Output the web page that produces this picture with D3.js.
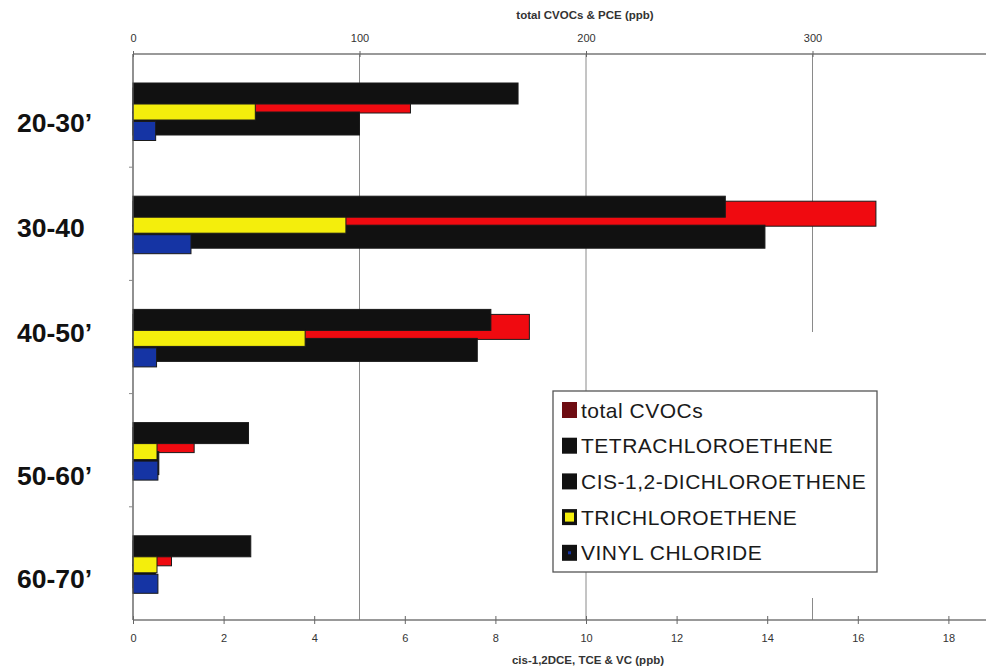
<!DOCTYPE html>
<html>
<head>
<meta charset="utf-8">
<script src="https://cdn.jsdelivr.net/npm/d3@7"></script>
<style>
  html, body { margin: 0; padding: 0; background: #fff; }
  svg { display: block; font-family: "Liberation Sans", Arial, sans-serif; }
</style>
</head>
<body>
<svg id="chart" width="986" height="668"></svg>
<script>
// Depth intervals (ft)
const categories = ["20-30’", "30-40", "40-50’", "50-60’", "60-70’"];

// Upper-axis series (ppb)
const totalCVOCs = [122.5, 328, 175, 27, 17];
const pce = [170, 261.5, 158, 51, 52];

// Lower-axis series (ppb)
const cisDCE = [5.0, 13.95, 7.6, 0.57, 0.5];
const tce = [2.7, 4.7, 3.8, 0.53, 0.53];
const vc = [0.5, 1.28, 0.52, 0.55, 0.55];

// Axis tick labels
const topTicks = [0, 100, 200, 300];
const bottomTicks = [0, 2, 4, 6, 8, 10, 12, 14, 16, 18];

const legendNames = ["total CVOCs", "TETRACHLOROETHENE", "CIS-1,2-DICHLOROETHENE", "TRICHLOROETHENE", "VINYL CHLORIDE"];

(function draw() {
const svg = d3.select("#chart");
const plotLeft = 133, plotTop = 54, plotBottom = 620, plotRight = 986;

const xTop = d3.scaleLinear().domain([0, 400]).range([plotLeft, plotLeft + 906]);
const xBot = d3.scaleLinear().domain([0, 20]).range([plotLeft, plotLeft + 906]);
const y = d3.scaleBand().domain(categories).range([plotTop, plotBottom]).padding(0);
const bw = y.bandwidth();

// gridlines (100/200/300 ppb on the upper scale)
const grid = svg.append("g").attr("stroke", "#8a8a8a").attr("stroke-width", 1);
grid.append("line").attr("x1", xTop(100)).attr("x2", xTop(100)).attr("y1", plotTop).attr("y2", plotBottom);
grid.append("line").attr("x1", xTop(200)).attr("x2", xTop(200)).attr("y1", plotTop).attr("y2", plotBottom);
grid.append("line").attr("x1", xTop(300)).attr("x2", xTop(300)).attr("y1", plotTop).attr("y2", 332);
grid.append("line").attr("x1", xTop(300)).attr("x2", xTop(300)).attr("y1", 598).attr("y2", plotBottom);

// bar series, drawn back to front; offsets are fractions of the band
const series = [
  { values: totalCVOCs, x: xTop, fill: "#f00a10", y0: 34 / 113.2, y1: 59 / 113.2 },
  { values: pce,        x: xTop, fill: "#111111", y0: 29 / 113.2, y1: 50 / 113.2 },
  { values: cisDCE,     x: xBot, fill: "#111111", y0: 58 / 113.2, y1: 81 / 113.2 },
  { values: tce,        x: xBot, fill: "#f4ee0c", y0: 50 / 113.2, y1: 66 / 113.2 },
  { values: vc,         x: xBot, fill: "#1534a4", y0: 67.5 / 113.2, y1: 86.5 / 113.2 }
];

const bars = svg.append("g");
series.forEach(s => {
  bars.append("g").selectAll("rect")
    .data(categories.map((c, i) => ({ c, v: s.values[i] })))
    .join("rect")
    .attr("x", plotLeft)
    .attr("y", d => y(d.c) + s.y0 * bw)
    .attr("width", d => s.x(d.v) - plotLeft)
    .attr("height", (s.y1 - s.y0) * bw)
    .attr("fill", s.fill)
    .attr("stroke", "#1a1a1a")
    .attr("stroke-width", 1);
});

// category axis line with small boundary ticks
svg.append("line").attr("x1", plotLeft).attr("x2", plotLeft).attr("y1", plotTop).attr("y2", plotBottom)
  .attr("stroke", "#555").attr("stroke-width", 1.3);
svg.append("g").selectAll("line")
  .data(categories.slice(1))
  .join("line")
  .attr("x1", plotLeft - 4).attr("x2", plotLeft)
  .attr("y1", d => y(d)).attr("y2", d => y(d))
  .attr("stroke", "#888");

// depth labels
const labelBaselines = [132, 237, 342, 485, 588];
svg.append("g").selectAll("text")
  .data(categories)
  .join("text")
  .attr("x", 17)
  .attr("y", (d, i) => labelBaselines[i])
  .attr("font-size", 26.5)
  .attr("font-weight", "bold")
  .attr("fill", "#111")
  .text(d => d);

// top axis
svg.append("line").attr("x1", plotLeft).attr("x2", plotRight).attr("y1", plotTop).attr("y2", plotTop)
  .attr("stroke", "#777").attr("stroke-width", 1.5);
const gTop = svg.append("g").attr("transform", `translate(0,${plotTop})`)
  .call(d3.axisTop(xTop).tickValues(topTicks).tickSize(3).tickFormat(d3.format("d")));
gTop.select(".domain").remove();
gTop.selectAll(".tick line").attr("y1", -3).attr("y2", 3).attr("stroke", "#666");
gTop.selectAll(".tick text").attr("y", -12).attr("font-size", 11).attr("fill", "#333")
  .attr("font-family", "Liberation Sans, Arial, sans-serif");
svg.append("text").attr("x", 585).attr("y", 19).attr("text-anchor", "middle")
  .attr("font-size", 11.5).attr("font-weight", "bold").attr("fill", "#333")
  .text("total CVOCs & PCE (ppb)");

// bottom axis
svg.append("line").attr("x1", plotLeft).attr("x2", plotRight).attr("y1", plotBottom).attr("y2", plotBottom)
  .attr("stroke", "#777").attr("stroke-width", 1.5);
const gBot = svg.append("g").attr("transform", `translate(0,${plotBottom})`)
  .call(d3.axisBottom(xBot).tickValues(bottomTicks).tickSize(3).tickFormat(d3.format("d")));
gBot.select(".domain").remove();
gBot.selectAll(".tick line").attr("y1", -4).attr("y2", 4).attr("stroke", "#666");
gBot.selectAll(".tick text").attr("y", 14).attr("font-size", 11).attr("fill", "#333")
  .attr("font-family", "Liberation Sans, Arial, sans-serif");
svg.append("text").attr("x", 588).attr("y", 664).attr("text-anchor", "middle")
  .attr("font-size", 11.5).attr("font-weight", "bold").attr("fill", "#333")
  .text("cis-1,2DCE, TCE & VC (ppb)");

// legend
const lg = svg.append("g").attr("transform", "translate(553,391)");
lg.append("rect").attr("width", 324).attr("height", 181)
  .attr("fill", "#fff").attr("stroke", "#555").attr("stroke-width", 1.3);
const swatches = [
  { fill: "#6e0c12", inner: null, iw: 0 },
  { fill: "#111", inner: null, iw: 0 },
  { fill: "#111", inner: null, iw: 0 },
  { fill: "#111", inner: "#f4ee0c", iw: 9 },
  { fill: "#111", inner: "#1534a4", iw: 3 }
];
const rows = lg.selectAll("g.row")
  .data(legendNames.map((name, i) => ({ name, sw: swatches[i] })))
  .join("g").attr("class", "row")
  .attr("transform", (d, i) => `translate(0,${19 + i * 35.7})`);
rows.append("rect").attr("x", 9).attr("y", -8).attr("width", 15).attr("height", 16)
  .attr("fill", d => d.sw.fill);
rows.filter(d => d.sw.inner)
  .append("rect")
  .attr("x", d => 16.5 - d.sw.iw / 2)
  .attr("y", d => -d.sw.iw / 2)
  .attr("width", d => d.sw.iw)
  .attr("height", d => d.sw.iw)
  .attr("fill", d => d.sw.inner);
rows.append("text").attr("x", 28).attr("y", 7.5)
  .attr("font-size", 21).attr("letter-spacing", 0.5).attr("fill", "#1a1a1a")
  .text(d => d.name);
})();
</script>
</body>
</html>
